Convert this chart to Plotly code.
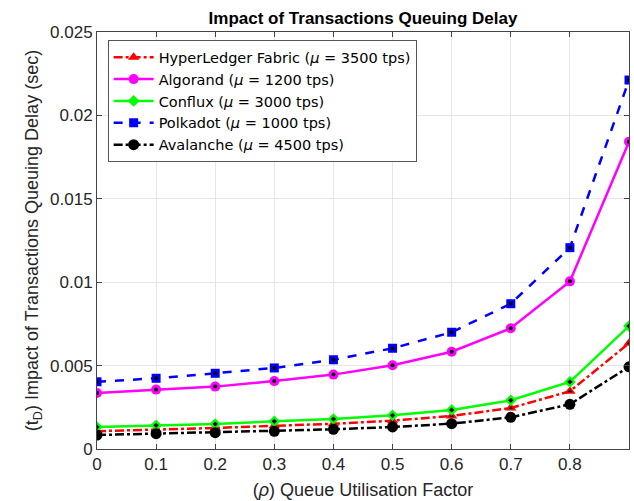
import plotly.graph_objects as go

rho = [0, 0.1, 0.2, 0.3, 0.4, 0.5, 0.6, 0.7, 0.8, 0.9]
hyperledger = [0.00107, 0.00116, 0.00126, 0.00139, 0.00151, 0.00170, 0.00198, 0.00246, 0.00346, 0.00634]
algorand = [0.00336, 0.00356, 0.00374, 0.00407, 0.00446, 0.00502, 0.00583, 0.00724, 0.01005, 0.01842]
conflux = [0.00132, 0.00142, 0.00150, 0.00166, 0.00180, 0.00202, 0.00234, 0.00292, 0.00402, 0.00737]
polkadot = [0.00403, 0.00424, 0.00454, 0.00486, 0.00535, 0.00604, 0.00700, 0.00871, 0.01207, 0.02212]
avalanche = [0.00084, 0.00092, 0.00098, 0.00106, 0.00118, 0.00132, 0.00152, 0.00190, 0.00268, 0.00493]

names = ["HyperLedger Fabric (<i>μ</i> = 3500 tps)",
         "Algorand (<i>μ</i> = 1200 tps)",
         "Conflux (<i>μ</i> = 3000 tps)",
         "Polkadot (<i>μ</i> = 1000 tps)",
         "Avalanche (<i>μ</i> = 4500 tps)"]
series = [hyperledger, algorand, conflux, polkadot, avalanche]
colors = ["#ff0000", "#ff00ff", "#00ff00", "#0000ff", "#000000"]
dashes = ["dashdot", "solid", "solid", "dash", "dashdot"]
symbols = ["triangle-up", "circle", "diamond", "square", "circle"]
sizes = [10, 10, 9, 9, 11]

fig = go.Figure()
for i, (nm, ys) in enumerate(zip(names, series)):
    fig.add_trace(go.Scatter(
        x=rho, y=ys, name=nm, mode="lines+markers", legendgroup=nm,
        line=dict(color=colors[i], width=2.5, dash=dashes[i]),
        marker=dict(symbol=symbols[i], size=sizes[i], color=colors[i],
                    line=dict(width=0)),
    ))
    if i != 4:
        fig.add_trace(go.Scatter(
            x=rho, y=ys, mode="markers", legendgroup=nm, showlegend=False,
            hoverinfo="skip",
            marker=dict(symbol=symbols[i] if i in (0, 2) else "circle",
                        size=4, color="black", line=dict(width=0)),
        ))

FONT = "Liberation Sans, Arial, sans-serif"
axis_common = dict(
    showline=True, linecolor="#444444", linewidth=1, mirror="ticks",
    ticks="inside", ticklen=5, tickcolor="#444444",
    showgrid=True, gridcolor="#e6e6e6", gridwidth=1, zeroline=False,
    tickfont=dict(family=FONT, size=17, color="#262626"),
)

fig.update_layout(
    width=634, height=501,
    margin=dict(l=97, r=5, t=32, b=52),
    paper_bgcolor="white", plot_bgcolor="white",
    title=dict(text="<b>Impact of Transactions Queuing Delay</b>",
               x=(97 + 629) / 2 / 634, xanchor="center", y=1 - 18 / 501, yanchor="middle",
               font=dict(family=FONT, size=17, color="black")),
    xaxis=dict(range=[0, 0.9], tickvals=[0, 0.1, 0.2, 0.3, 0.4, 0.5, 0.6, 0.7, 0.8],
               ticktext=["0", "0.1", "0.2", "0.3", "0.4", "0.5", "0.6", "0.7", "0.8"],
               title=dict(text="(<i>ρ</i>) Queue Utilisation Factor", standoff=9,
                          font=dict(family=FONT, size=18, color="#262626")),
               **axis_common),
    yaxis=dict(range=[0, 0.025], tickvals=[0, 0.005, 0.01, 0.015, 0.02, 0.025],
               ticktext=["0", "0.005", "0.01", "0.015", "0.02", "0.025"],
               title=dict(text="(t<sub>D</sub>) Impact of Transactions Queuing Delay (sec)", standoff=6,
                          font=dict(family=FONT, size=18, color="#262626")),
               **axis_common),
    legend=dict(x=0.02, y=0.98, xanchor="left", yanchor="top",
                bgcolor="white", bordercolor="#555555", borderwidth=1,
                font=dict(family="DejaVu Sans, sans-serif", size=14.5, color="black"),
                tracegroupgap=0, itemwidth=40),
    showlegend=True,
)

fig.write_html("out.html")
